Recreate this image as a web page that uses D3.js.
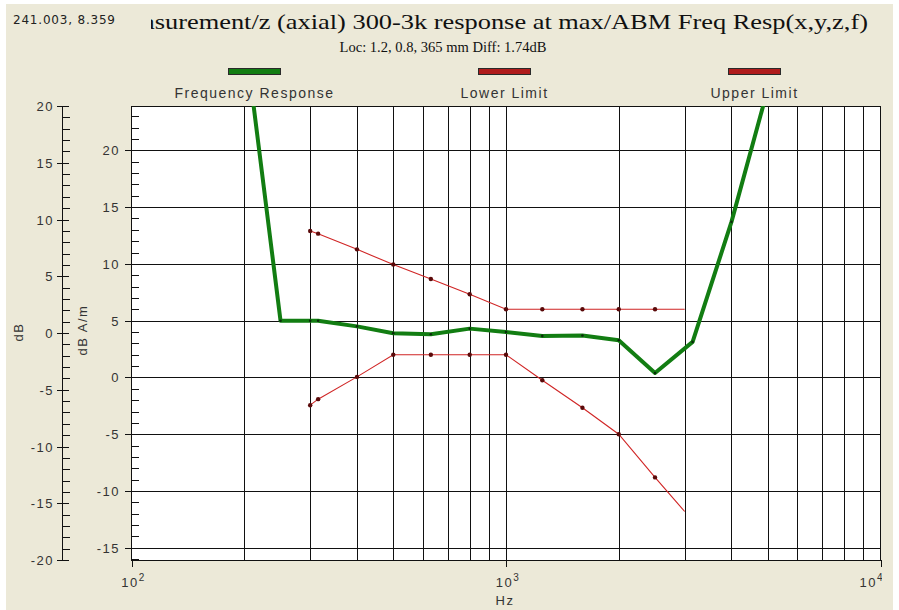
<!DOCTYPE html>
<html><head><meta charset="utf-8">
<script src="https://cdn.jsdelivr.net/npm/d3@7"></script>
<style>
html,body{margin:0;padding:0;background:#fff;}
svg{display:block;}
.lbl{font-family:"Liberation Sans",Arial,sans-serif;font-size:13px;fill:#333;letter-spacing:1.5px;}
</style></head>
<body><svg id="c" width="899" height="610"></svg>
<script>
// ---- data ----
const respFreq = [200, 250, 300, 315, 400, 500, 630, 800, 1000, 1250, 1600, 2000, 2500, 3150, 4000, 5000];
const respDb   = [30.5, 5.0, 5.0, 5.0, 4.5, 3.9, 3.8, 4.3, 4.0, 3.66, 3.69, 3.28, 0.4, 3.13, 13.7, 25.4];
const limFreq  = [300, 315, 400, 500, 630, 800, 1000, 1250, 1600, 2000, 2500, 3000];
const lowerDb  = [-2.44, -1.91, 0.05, 2.0, 2.0, 2.0, 2.0, -0.24, -2.67, -5.0, -8.8, -11.8];
const upperDb  = [12.9, 12.66, 11.28, 9.94, 8.67, 7.33, 6.0, 6.0, 6.0, 6.0, 6.0, 6.0];
const seriesNames = ["Frequency Response", "Lower Limit", "Upper Limit"];
const innerTicks = [-15, -10, -5, 0, 5, 10, 15, 20];
const outerTicks = [-20, -15, -10, -5, 0, 5, 10, 15, 20];
const xMajor = [100, 1000, 10000];
const titleText = "asurement/z (axial) 300-3k response at max/ABM Freq Resp(x,y,z,f)";
const subtitleText = "Loc: 1.2, 0.8, 365 mm Diff: 1.74dB";
const cursorText = "241.003, 8.359";

// ---- layout ----
const svg = d3.select("#c");
const L = 131.5, R = 880.5, T = 106, B = 560;
const x = d3.scaleLog().domain([100, 10000]).range([L, R]);
const yIn = d3.scaleLinear().domain([-16.07, 23.9]).range([B, T]);
const yOut = d3.scaleLinear().domain([-20, 20]).range([B, T]);

svg.append("rect").attr("x",0).attr("y",0).attr("width",899).attr("height",610).attr("fill","#fff");
svg.append("rect").attr("x",6).attr("y",4).attr("width",887).attr("height",606).attr("fill","#ECE9D8");

// cursor readout
svg.append("text").attr("x",13).attr("y",24)
  .style("font-family","'DejaVu Sans',Verdana,sans-serif").style("font-size","12px")
  .style("letter-spacing","0.8px").attr("fill","#222")
  .text(cursorText);

// title (clipped on the left)
svg.append("clipPath").attr("id","tclip").append("rect").attr("x",151).attr("y",0).attr("width",740).attr("height",40);
svg.append("g").attr("clip-path","url(#tclip)")
  .append("text").attr("transform","translate(868,29) scale(1.2,1)").attr("text-anchor","end")
  .style("font-family","'Liberation Serif','Times New Roman',serif").style("font-size","22px").attr("fill","#111")
  .text(titleText);
svg.append("text").attr("transform","translate(443,52) scale(1.04,1)").attr("text-anchor","middle")
  .style("font-family","'Liberation Serif','Times New Roman',serif").style("font-size","14px").attr("fill","#111")
  .text(subtitleText);

// legend
const legColors = ["#127d12", "#b01c1c", "#b01c1c"];
const legCx = [254.5, 504.5, 754.5];
const leg = svg.append("g");
seriesNames.forEach((n,i)=>{
  leg.append("rect").attr("x",legCx[i]-26).attr("y",68.5).attr("width",52).attr("height",6)
    .attr("fill",legColors[i]).attr("stroke","#2a2a2a").attr("stroke-width",1);
  leg.append("text").attr("class","lbl").attr("x",legCx[i]).attr("y",98).attr("text-anchor","middle")
    .style("font-size","14px").text(n);
});

// plot background
svg.append("rect").attr("x",L).attr("y",T).attr("width",R-L).attr("height",B-T).attr("fill","#fff");

// grid
const grid = svg.append("g").attr("stroke","#111").attr("stroke-width",1).attr("shape-rendering","crispEdges");
const xAll = x.ticks().filter(d=>d>100 && d<10000);
xAll.forEach(f=>{
  grid.append("line").attr("x1",Math.round(x(f))+0.5).attr("x2",Math.round(x(f))+0.5).attr("y1",T).attr("y2",B);
});
innerTicks.forEach(v=>{
  grid.append("line").attr("x1",L).attr("x2",R).attr("y1",Math.round(yIn(v))+0.5).attr("y2",Math.round(yIn(v))+0.5);
});
// border
svg.append("rect").attr("x",L).attr("y",T).attr("width",R-L).attr("height",B-T)
  .attr("fill","none").attr("stroke","#111").attr("stroke-width",1).attr("shape-rendering","crispEdges");

// inner y axis (dB A/m): minor ticks inside, major outside
const inAx = svg.append("g").attr("stroke","#111").attr("shape-rendering","crispEdges");
d3.range(-16, 24).forEach(v=>{
  const yy = Math.round(yIn(v))+0.5;
  if (v % 5 === 0) inAx.append("line").attr("x1",L-7).attr("x2",L).attr("y1",yy).attr("y2",yy);
  else inAx.append("line").attr("x1",L).attr("x2",L+7).attr("y1",yy).attr("y2",yy);
});
innerTicks.forEach(v=>{
  svg.append("text").attr("class","lbl").attr("x",120).attr("y",yIn(v)+5).attr("text-anchor","end").text(v);
});

// outer y axis (dB)
const OX = 62.5;
const outAx = svg.append("g").attr("stroke","#111").attr("shape-rendering","crispEdges");
outAx.append("line").attr("x1",OX).attr("x2",OX).attr("y1",T).attr("y2",B);
d3.range(-20, 21).forEach(v=>{
  const yy = Math.round(yOut(v))+0.5;
  if (v % 5 === 0) outAx.append("line").attr("x1",OX-6).attr("x2",OX+6).attr("y1",yy).attr("y2",yy);
  else outAx.append("line").attr("x1",OX).attr("x2",OX+7).attr("y1",yy).attr("y2",yy);
});
outerTicks.forEach(v=>{
  svg.append("text").attr("class","lbl").attr("x",54).attr("y",yOut(v)+5).attr("text-anchor","end").text(v);
});

// x axis major ticks & labels (panel clips at right edge)
svg.append("clipPath").attr("id","xclip").append("rect").attr("x",0).attr("y",560).attr("width",882).attr("height",50);
const xl = svg.append("g").attr("clip-path","url(#xclip)");
xMajor.forEach((f,i)=>{
  const xx = Math.round(x(f))+0.5;
  svg.append("line").attr("x1",xx).attr("x2",xx).attr("y1",B).attr("y2",B+7).attr("stroke","#111").attr("shape-rendering","crispEdges");
  const last = i === xMajor.length-1;
  const t = xl.append("text").attr("class","lbl")
    .attr("x", last ? 884 : x(f)+2).attr("y",587).attr("text-anchor", last ? "end" : "middle");
  t.append("tspan").text("10");
  t.append("tspan").attr("dy",-6).style("font-size","10px").text(Math.round(Math.log10(f)));
});
svg.append("text").attr("class","lbl").attr("x",505).attr("y",605).attr("text-anchor","middle").text("Hz");

// axis titles
svg.append("text").attr("class","lbl").attr("transform","translate(23,332) rotate(-90)").attr("text-anchor","middle").text("dB");
svg.append("text").attr("class","lbl").attr("transform","translate(87,330) rotate(-90)").attr("text-anchor","middle").text("dB A/m");

// data
svg.append("clipPath").attr("id","pclip").append("rect").attr("x",L).attr("y",T).attr("width",R-L).attr("height",B-T);
const plot = svg.append("g").attr("clip-path","url(#pclip)");
const line = d3.line().x(d=>x(d[0])).y(d=>yIn(d[1]));

const lim = [[limFreq, upperDb],[limFreq, lowerDb]];
lim.forEach(([fs, vs])=>{
  const pts = fs.map((f,i)=>[f, vs[i]]);
  plot.append("path").attr("d",line(pts)).attr("fill","none").attr("stroke","#d02525").attr("stroke-width",1.1);
  plot.selectAll(null).data(pts.slice(0,-1)).enter().append("circle")
    .attr("cx",d=>x(d[0])).attr("cy",d=>yIn(d[1])).attr("r",2.2).attr("fill","#5a0a0a");
});

const rpts = respFreq.map((f,i)=>[f, respDb[i]]);
plot.append("path").attr("d",line(rpts)).attr("fill","none").attr("stroke","#127d12").attr("stroke-width",4)
  .attr("stroke-linejoin","round");
plot.selectAll(null).data(rpts).enter().append("circle")
  .attr("cx",d=>x(d[0])).attr("cy",d=>yIn(d[1])).attr("r",1.3).attr("fill","#0a2a0a");
</script></body></html>
